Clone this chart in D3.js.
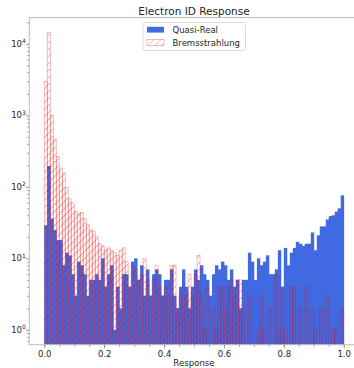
<!DOCTYPE html>
<html>
<head>
<meta charset="utf-8">
<script src="https://cdn.jsdelivr.net/npm/d3@7/dist/d3.min.js"></script>
<style>
  body { margin: 0; background: #fff; }
  text { font-family: "DejaVu Sans", sans-serif; fill: #262626; }
</style>
</head>
<body>
<svg id="chart" width="354" height="368"></svg>
<script>
// histogram: 100 bins of width 0.01 on [0, 1]
const binWidth = 0.01;

const quasiReal = [
  29, 196, 36, 25, 18, 18, 8, 12, 11, 6,
  3, 9, 8, 6, 3, 5, 5, 6, 5, 10,
  4, 6, 8, 1, 4, 2, 6, 6, 4, 9,
  10, 5, 8, 3, 7, 3, 6, 7, 6, 3,
  5, 5, 7, 3, 2, 4, 7, 4, 2, 4,
  7, 5, 8, 6, 5, 3, 6, 8, 7, 9,
  8, 5, 7, 4, 5, 2, 5, 5, 12, 9,
  5, 10, 8, 9, 11, 6, 6, 7, 13, 4,
  14, 8, 12, 14, 17, 16, 15, 16, 16, 23,
  13, 21, 28, 28, 35, 39, 40, 45, 50, 76
];

const bremsstrahlung = [
  3000, 14500, 1000, 460, 265, 183, 156, 98, 68, 59,
  45, 42, 44, 36, 30, 25, 24, 20, 16, 15,
  13, 14, 13, 12, 11, 13, 14, 9, 4, 8,
  7, 5, 6, 10, 5, 3, 5, 8, 4, 3,
  4, 3, 8, 8, 2, 3, 4, 3, 6, 3,
  6, 11, 3, 1, 4, 0, 2, 1, 4, 4,
  2, 4, 5, 3, 5, 5, 2, 0, 3, 0,
  0, 1, 3, 1, 0, 2, 0, 6, 1, 4,
  1, 0, 4, 4, 0, 2, 0, 4, 0, 2,
  1, 0, 2, 0, 3, 0, 1, 1, 0, 2
];

const xTicks = [0, 0.2, 0.4, 0.6, 0.8, 1.0];
const yTicks = [1, 10, 100, 1000, 10000];

const svg = d3.select('#chart');
const plotLeft = 29.3, plotRight = 358.7, plotTop = 17.5, plotBottom = 344.7;

const blue = '#4169e1';
const hatchColor = 'rgba(240,0,0,0.35)';

const x = d3.scaleLinear().domain([-0.05, 1.05]).range([plotLeft, plotRight]);
const y = d3.scaleLog().domain([Math.pow(10, -0.208), Math.pow(10, 4.369)]).range([plotBottom, plotTop]);

// hatch pattern for the Bremsstrahlung bars
const defs = svg.append('defs');
const pat = defs.append('pattern')
  .attr('id', 'hatch')
  .attr('patternUnits', 'userSpaceOnUse')
  .attr('width', 7).attr('height', 7);
pat.append('path')
  .attr('d', 'M-1,8 L8,-1 M-1,1 L1,-1 M6,8 L8,6')
  .attr('stroke', hatchColor)
  .attr('stroke-width', 1);

defs.append('clipPath').attr('id', 'clip')
  .append('rect')
  .attr('x', plotLeft).attr('y', plotTop)
  .attr('width', plotRight - plotLeft).attr('height', plotBottom - plotTop);

const plot = svg.append('g').attr('clip-path', 'url(#clip)');

// Quasi-Real, filled bars
plot.append('g')
  .selectAll('rect')
  .data(quasiReal.map((v, i) => ({ i, v })).filter(d => d.v > 0))
  .enter().append('rect')
  .attr('x', d => x(d.i * binWidth))
  .attr('width', x(binWidth) - x(0) + 0.4)
  .attr('y', d => y(d.v))
  .attr('height', d => plotBottom - y(d.v))
  .attr('fill', blue);

// Bremsstrahlung, hatched outlined bars
plot.append('g')
  .selectAll('rect')
  .data(bremsstrahlung.map((v, i) => ({ i, v })).filter(d => d.v > 0))
  .enter().append('rect')
  .attr('x', d => x(d.i * binWidth))
  .attr('width', x(binWidth) - x(0))
  .attr('y', d => y(d.v))
  .attr('height', d => plotBottom - y(d.v) + 2)
  .attr('fill', 'url(#hatch)')
  .attr('stroke', hatchColor)
  .attr('stroke-width', 0.8);

// frame
svg.append('rect')
  .attr('x', plotLeft).attr('y', plotTop)
  .attr('width', plotRight - plotLeft).attr('height', plotBottom - plotTop)
  .attr('fill', 'none')
  .attr('stroke', '#bdbdbd')
  .attr('stroke-width', 1);

// x axis
const xMinor = d3.range(0, 21).map(i => i * 0.05);
const xAxisMinor = svg.append('g')
  .attr('transform', `translate(0,${plotBottom})`)
  .call(d3.axisBottom(x).tickValues(xMinor).tickSize(2).tickFormat(''));
const xAxis = svg.append('g')
  .attr('transform', `translate(0,${plotBottom})`)
  .call(d3.axisBottom(x).tickValues(xTicks).tickSize(3.5).tickPadding(2.5).tickFormat(d3.format('.1f')));
xAxis.selectAll('text').attr('font-size', 8.5).attr('font-family', '"DejaVu Sans", sans-serif');

// y axis
const yMinor = [];
[0.1, 1, 10, 100, 1000, 10000].forEach(d => {
  for (let k = 2; k <= 9; k++) yMinor.push(d * k);
});
const yAxisMinor = svg.append('g')
  .attr('transform', `translate(${plotLeft},0)`)
  .call(d3.axisLeft(y).tickValues(yMinor.filter(v => y(v) >= plotTop && y(v) <= plotBottom)).tickSize(2).tickFormat(''));
const yAxis = svg.append('g')
  .attr('transform', `translate(${plotLeft},0)`)
  .call(d3.axisLeft(y).tickValues(yTicks).tickSize(3.5).tickFormat(''));

[xAxisMinor, xAxis, yAxisMinor, yAxis].forEach(a => {
  a.select('.domain').remove();
  a.selectAll('line').attr('stroke', '#999');
});

const yLab = svg.append('g').selectAll('text')
  .data(yTicks)
  .enter().append('text')
  .attr('x', plotLeft - 3.5)
  .attr('y', d => y(d) + 3.1)
  .attr('text-anchor', 'end')
  .attr('font-size', 8.5);
yLab.append('tspan').text('10');
yLab.append('tspan')
  .attr('dy', -3.6)
  .attr('font-size', 6)
  .text(d => Math.round(Math.log10(d)));

// title and axis label
svg.append('text')
  .attr('x', (plotLeft + plotRight) / 2).attr('y', 15)
  .attr('text-anchor', 'middle')
  .attr('font-size', 10.5)
  .text('Electron ID Response');

svg.append('text')
  .attr('x', (plotLeft + plotRight) / 2).attr('y', 366)
  .attr('text-anchor', 'middle')
  .attr('font-size', 8.6)
  .text('Response');

// legend
const lg = svg.append('g').attr('transform', 'translate(143,22.5)');
lg.append('rect')
  .attr('width', 102.5).attr('height', 28)
  .attr('rx', 2)
  .attr('fill', 'rgba(255,255,255,0.85)')
  .attr('stroke', '#d0d0d0')
  .attr('stroke-width', 0.8);
lg.append('rect')
  .attr('x', 4).attr('y', 4.3).attr('width', 17).attr('height', 5.8)
  .attr('fill', blue);
lg.append('rect')
  .attr('x', 4).attr('y', 17).attr('width', 17).attr('height', 6)
  .attr('fill', 'url(#hatch)')
  .attr('stroke', hatchColor)
  .attr('stroke-width', 0.8);
lg.append('text').attr('x', 29.5).attr('y', 10.3).attr('font-size', 8.5).text('Quasi-Real');
lg.append('text').attr('x', 29.5).attr('y', 23).attr('font-size', 8.5).text('Bremsstrahlung');
</script>
</body>
</html>
